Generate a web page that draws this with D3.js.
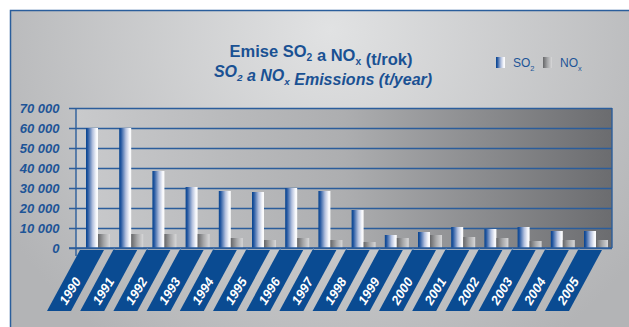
<!DOCTYPE html>
<html>
<head>
<meta charset="utf-8">
<script src="https://cdn.jsdelivr.net/npm/d3@7"></script>
<style>
  html, body { margin: 0; padding: 0; background: #fff; }
  svg { display: block; }
</style>
</head>
<body>
<div id="chart"></div>
<script>
var w = 629, h = 327;

// values (t/year)
var years = ["1990","1991","1992","1993","1994","1995","1996","1997","1998","1999","2000","2001","2002","2003","2004","2005"];
var so2 = [60000, 60000, 38500, 30500, 28500, 28000, 30000, 28500, 19000, 6500, 8000, 10500, 9500, 10500, 8500, 8500];
var nox = [7000, 7000, 7000, 7000, 5000, 4000, 5000, 4000, 3000, 5000, 6500, 5500, 5000, 3500, 4000, 4000];
var yTicks = [0, 10000, 20000, 30000, 40000, 50000, 60000, 70000];
var seriesKeys = ["so2", "nox"];

var blue = "#1d5497";
var gridBlue = "#2b5d9b";

var plot = {left: 76, right: 612, top: 108, bottom: 248};

var svg = d3.select("#chart").append("svg")
    .attr("width", w)
    .attr("height", h);

var defs = svg.append("defs");

var bg = defs.append("radialGradient").attr("id", "bgGrad")
    .attr("gradientUnits", "userSpaceOnUse")
    .attr("cx", 330).attr("cy", 30).attr("r", 380);
bg.append("stop").attr("offset", 0).attr("stop-color", "#e1e2e3");
bg.append("stop").attr("offset", 1).attr("stop-color", "#b3b4b6");

var pg = defs.append("linearGradient").attr("id", "plotGrad");
pg.append("stop").attr("offset", 0).attr("stop-color", "#c9cacc");
pg.append("stop").attr("offset", 0.5).attr("stop-color", "#adaeb0");
pg.append("stop").attr("offset", 1).attr("stop-color", "#6b6c6f");

var sg = defs.append("linearGradient").attr("id", "so2Grad");
sg.append("stop").attr("offset", 0).attr("stop-color", "#07448f");
sg.append("stop").attr("offset", 0.15).attr("stop-color", "#2457a0");
sg.append("stop").attr("offset", 0.55).attr("stop-color", "#b4c1de");
sg.append("stop").attr("offset", 0.85).attr("stop-color", "#f6f7fb");
sg.append("stop").attr("offset", 1).attr("stop-color", "#fdfdfd");

var ng = defs.append("linearGradient").attr("id", "noxGrad");
ng.append("stop").attr("offset", 0).attr("stop-color", "#666769");
ng.append("stop").attr("offset", 0.5).attr("stop-color", "#a6a7a9");
ng.append("stop").attr("offset", 1).attr("stop-color", "#d8d8d9");

// outer panel
svg.append("rect")
    .attr("x", 10.5).attr("y", 10.5)
    .attr("width", w + 10).attr("height", h + 10)
    .attr("fill", "url(#bgGrad)")
    .attr("stroke", "#2a5e9c")
    .attr("stroke-width", 1.5);

// title
var title = svg.append("text")
    .attr("text-anchor", "middle")
    .attr("fill", "#1a5193")
    .style("font-family", "'Liberation Sans', Arial, sans-serif")
    .style("font-weight", "bold");

function subText(el, parts, size) {
    parts.forEach(function(p) {
        if (p.sub) {
            el.append("tspan").attr("dy", 4).style("font-size", (size * 0.62) + "px").text(p.t);
            el.append("tspan").attr("dy", -4).text("");
        } else {
            el.append("tspan").text(p.t);
        }
    });
}

var t1 = title.append("tspan").attr("x", 321).attr("y", 57).style("font-size", "16.5px");
subText(t1, [{t: "Emise SO"}, {t: "2", sub: true}, {t: " a NO"}, {t: "x", sub: true}, {t: " (t/rok)"}], 16.5);
var t2 = title.append("tspan").attr("x", 323).attr("y", 77).style("font-size", "16px").style("font-style", "italic");
subText(t2, [{t: "SO"}, {t: "2", sub: true}, {t: " a NO"}, {t: "x", sub: true}, {t: " Emissions (t/year)"}], 16);

// legend
var legend = svg.append("g");
var legItems = [
    {key: "so2", x: 496, label: [{t: "SO"}, {t: "2", sub: true}]},
    {key: "nox", x: 543, label: [{t: "NO"}, {t: "x", sub: true}]}
];
legItems.forEach(function(d) {
    legend.append("rect")
        .attr("x", d.x).attr("y", 57)
        .attr("width", 9).attr("height", 11)
        .attr("fill", "url(#" + d.key + "Grad)");
    var lt = legend.append("text")
        .attr("x", d.x + 17).attr("y", 67)
        .attr("fill", blue)
        .style("font-family", "'Liberation Sans', Arial, sans-serif")
        .style("font-size", "12px");
    subText(lt, d.label, 12);
});

// scales
var x0 = d3.scaleBand().domain(years).range([81, 612.2]);
var x1 = d3.scaleBand().domain(seriesKeys).range([5, 29]);
var y = d3.scaleLinear().domain([0, 70000]).range([plot.bottom, plot.top]);

// plot background
svg.append("rect")
    .attr("x", plot.left).attr("y", plot.top)
    .attr("width", plot.right - plot.left).attr("height", plot.bottom - plot.top)
    .attr("fill", "url(#plotGrad)");

// grid + y axis
var yAxis = d3.axisLeft(y)
    .tickValues(yTicks)
    .tickSize(-(plot.right - 69))
    .tickFormat(function(d) { return d3.format(",")(d).replace(",", " "); });

var gy = svg.append("g")
    .attr("transform", "translate(69,0)")
    .call(yAxis);
gy.select(".domain").remove();
gy.selectAll(".tick line")
    .attr("stroke", gridBlue)
    .attr("stroke-width", 1.4);
gy.selectAll(".tick text")
    .attr("x", -9.5)
    .attr("dy", "0.36em")
    .attr("fill", blue)
    .style("font-family", "'Liberation Sans Narrow', 'Arial Narrow', sans-serif")
    .style("font-size", "13px")
    .style("font-weight", "bold")
    .style("font-style", "italic");

// right frame
svg.append("line")
    .attr("x1", plot.right).attr("x2", plot.right)
    .attr("y1", plot.top).attr("y2", plot.bottom)
    .attr("stroke", gridBlue).attr("stroke-width", 1.4);

// bars
var groups = svg.append("g").selectAll("g")
    .data(years)
    .join("g")
    .attr("transform", function(d) { return "translate(" + x0(d) + ",0)"; });

groups.selectAll("rect")
    .data(function(d, i) { return [{key: "so2", v: so2[i]}, {key: "nox", v: nox[i]}]; })
    .join("rect")
    .attr("x", function(d) { return x1(d.key); })
    .attr("width", x1.bandwidth())
    .attr("y", function(d) { return y(d.v); })
    .attr("height", function(d) { return y(0) - y(d.v); })
    .attr("fill", function(d) { return "url(#" + d.key + "Grad)"; });

// bottom axis line, left axis line, x ticks
svg.append("line")
    .attr("x1", 69).attr("x2", plot.right)
    .attr("y1", plot.bottom).attr("y2", plot.bottom)
    .attr("stroke", gridBlue).attr("stroke-width", 1.4);
svg.append("line")
    .attr("x1", plot.left).attr("x2", plot.left)
    .attr("y1", plot.top).attr("y2", 256)
    .attr("stroke", gridBlue).attr("stroke-width", 1.4);
svg.append("g").selectAll("line")
    .data(years.slice(1))
    .join("line")
    .attr("x1", function(d) { return x0(d); })
    .attr("x2", function(d) { return x0(d); })
    .attr("y1", plot.bottom).attr("y2", 255)
    .attr("stroke", "#4f7fb6").attr("stroke-width", 1);

// slanted year ribbons
var rTop = 250, rBot = 311;
var ribbons = svg.append("g").selectAll("g")
    .data(years)
    .join("g");

ribbons.append("path")
    .attr("fill", "#0a4b92")
    .attr("d", function(d) {
        var b = x0(d);
        return "M" + (b - 1) + "," + rTop + "L" + (b + 23) + "," + rTop +
            "L" + (b - 10) + "," + rBot + "L" + (b - 34) + "," + rBot + "Z";
    });

ribbons.append("text")
    .attr("transform", function(d) { return "translate(" + (x0(d) - 11) + ",291) rotate(-58)"; })
    .attr("text-anchor", "middle")
    .attr("dy", "0.35em")
    .attr("fill", "#ffffff")
    .style("font-family", "'Liberation Sans', Arial, sans-serif")
    .style("font-size", "13px")
    .style("font-weight", "bold")
    .style("font-style", "italic")
    .text(function(d) { return d; });
</script>
</body>
</html>
